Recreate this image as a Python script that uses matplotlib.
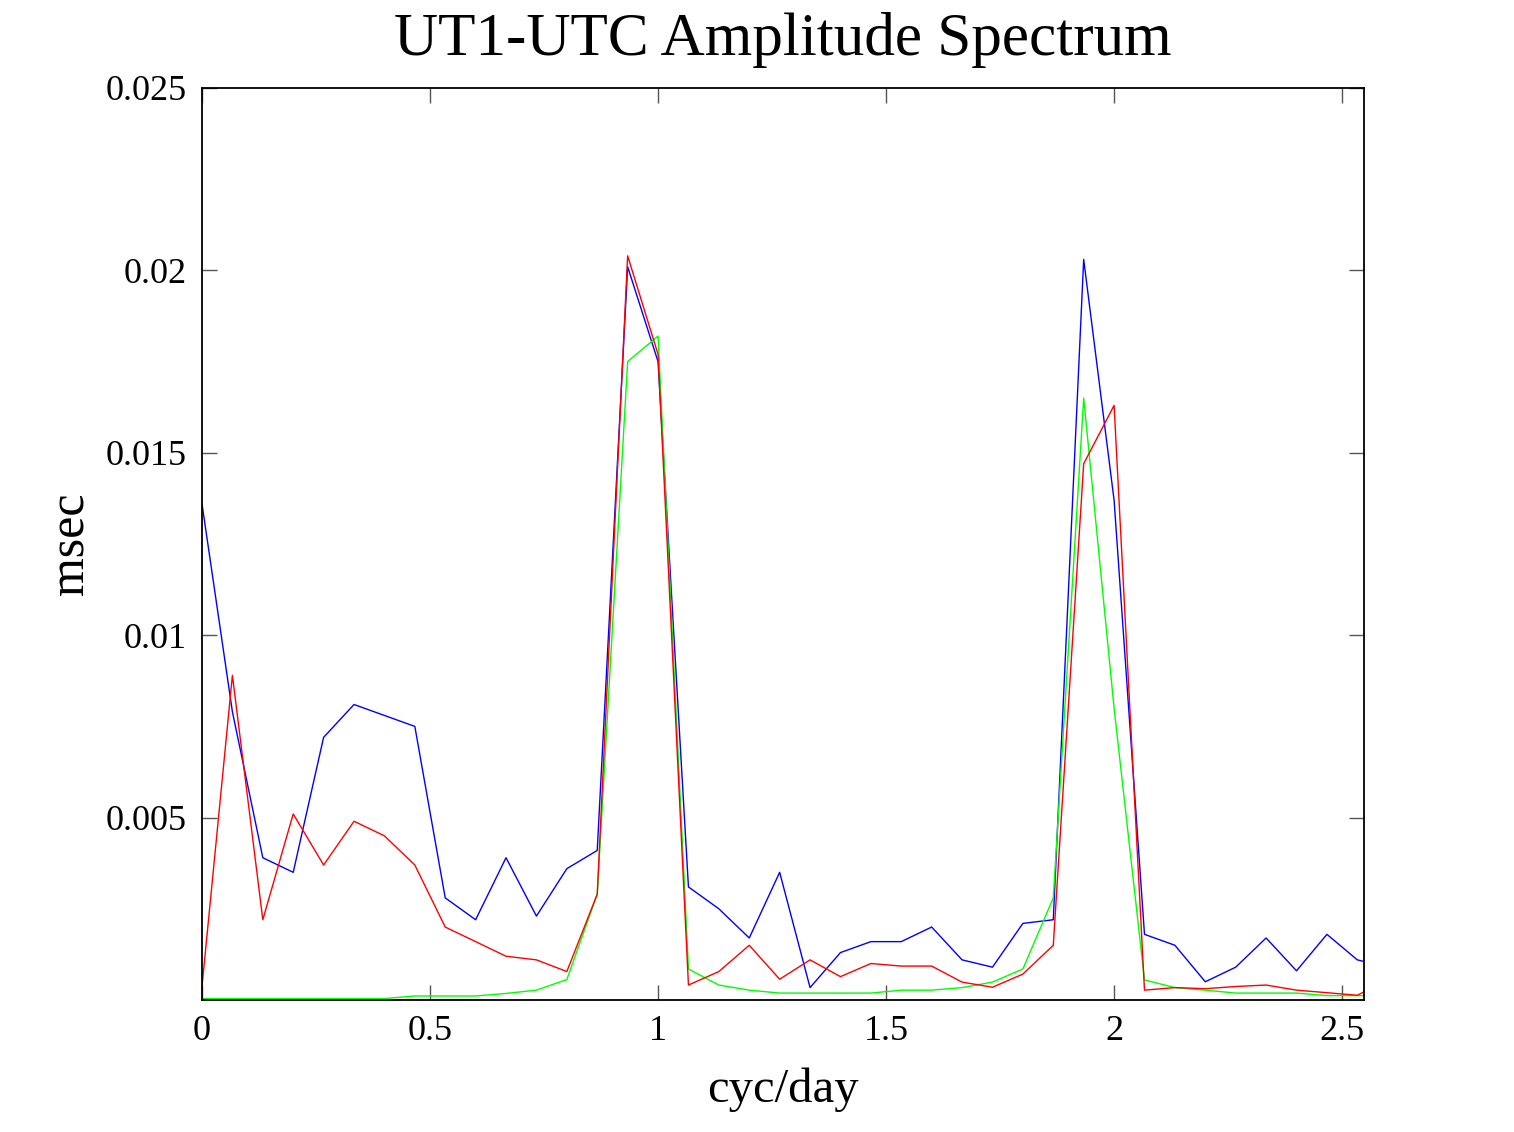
import numpy as np
import matplotlib
matplotlib.use("Agg")
from matplotlib import pyplot as plt

plt.rcParams['font.family'] = ['Liberation Serif', 'DejaVu Serif']

# frequency grid (cyc/day), bins of 1/15
n_bins = 40
freq = np.arange(n_bins) / 15.0

blue_amp = [0.0136, 0.0079, 0.0039, 0.0035, 0.0072, 0.0081, 0.0078, 0.0075,
            0.0028, 0.0022, 0.0039, 0.0023, 0.0036, 0.0041, 0.0201, 0.0175,
            0.0031, 0.0025, 0.0017, 0.0035, 0.00034, 0.0013, 0.0016, 0.0016,
            0.0020, 0.0011, 0.0009, 0.0021, 0.0022, 0.0203, 0.0137, 0.0018,
            0.0015, 0.0005, 0.0009, 0.0017, 0.0008, 0.0018, 0.0011, 0.0009]

red_amp = [0.00037, 0.0089, 0.0022, 0.0051, 0.0037, 0.0049, 0.0045, 0.0037,
           0.0020, 0.0016, 0.0012, 0.0011, 0.00078, 0.0029, 0.0204, 0.0177,
           0.00041, 0.00078, 0.0015, 0.00057, 0.0011, 0.00064, 0.0010, 0.00093,
           0.00093, 0.00049, 0.00035, 0.00071, 0.0015, 0.0147, 0.0163, 0.00027,
           0.00034, 0.00031, 0.00037, 0.00041, 0.00027, 0.00020, 0.00013, 0.00055]

green_amp = [0.00004, 0.00004, 0.00004, 0.00004, 0.00004, 0.00004, 0.00004, 0.00011,
             0.00011, 0.00011, 0.00018, 0.00027, 0.00056, 0.0029, 0.0175, 0.0182,
             0.00085, 0.00041, 0.00027, 0.00019, 0.00019, 0.00019, 0.00019, 0.00027,
             0.00027, 0.00034, 0.00049, 0.00085, 0.0028, 0.0165, 0.0080, 0.00055,
             0.00034, 0.00027, 0.00019, 0.00019, 0.00019, 0.00012, 0.00012, 0.00012]

xtick_vals = [0, 0.5, 1, 1.5, 2, 2.5]
xtick_labels = ["0", "0.5", "1", "1.5", "2", "2.5"]
ytick_vals = [0.005, 0.01, 0.015, 0.02, 0.025]
ytick_labels = ["0.005", "0.01", "0.015", "0.02", "0.025"]

fig = plt.figure(figsize=(15.14, 11.32), dpi=100)
ax = fig.add_axes([202 / 1514, 132 / 1132, 1162 / 1514, 912 / 1132])

ax.plot(freq, blue_amp, color=(0, 0, 1), lw=1.0)
ax.plot(freq, green_amp, color=(0, 1, 0), lw=1.0)
ax.plot(freq, red_amp, color=(1, 0, 0), lw=1.0)

ax.set_xlim(0, 2.548)
ax.set_ylim(0, 0.025)
ax.set_xticks(xtick_vals)
ax.set_xticklabels(xtick_labels)
ax.set_yticks(ytick_vals)
ax.set_yticklabels(ytick_labels)
ax.tick_params(direction='in', length=11, width=1, color='#555555',
               top=True, right=True, labelsize=26, pad=11)
for s in ax.spines.values():
    s.set_linewidth(1.3)

ax.set_title("UT1-UTC Amplitude Spectrum", fontsize=44, pad=24)
ax.set_xlabel("cyc/day", fontsize=35, labelpad=14)
ax.set_ylabel("msec", fontsize=36, labelpad=8)

fig.savefig("out.png", dpi=100, facecolor='white')
